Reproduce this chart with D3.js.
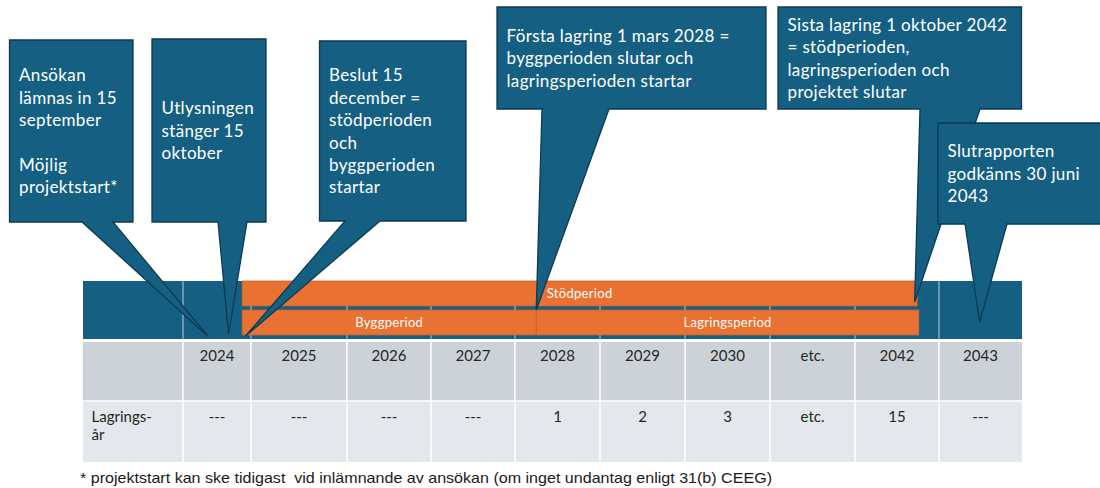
<!DOCTYPE html>
<html>
<head>
<meta charset="utf-8">
<script src="https://cdn.jsdelivr.net/npm/d3@7"></script>
<style>
  body { margin: 0; background: #fff; }
  svg { display: block; }
</style>
</head>
<body>
<svg id="chart" width="1100" height="488"></svg>
<script>
// --- data ---
const columns = ["2024", "2025", "2026", "2027", "2028", "2029", "2030", "etc.", "2042", "2043"];
// year at the left edge of each column ("etc." covers 2031-2042)
const columnYears = [2024, 2025, 2026, 2027, 2028, 2029, 2030, 2031, 2042, 2043, 2044];
const storageYears = ["---", "---", "---", "---", "1", "2", "3", "etc.", "15", "---"];
const rowLabel = ["Lagrings-", "år"];

const periods = [
  { name: "Stödperiod", start: 2024.87, end: 2042.74, row: 0 },
  { name: "Byggperiod", start: 2024.87, end: 2028.25, row: 1 },
  { name: "Lagringsperiod", start: 2028.25, end: 2042.76, row: 1 }
];

const calloutTexts = [
  ["Ansökan", "lämnas in 15", "september", "", "Möjlig", "projektstart*"],
  ["Utlysningen", "stänger 15", "oktober"],
  ["Beslut 15", "december =", "stödperioden", "och", "byggperioden", "startar"],
  ["Första lagring 1 mars 2028 =", "byggperioden slutar och", "lagringsperioden startar"],
  ["Sista lagring 1 oktober 2042", "= stödperioden,", "lagringsperioden och", "projektet slutar"],
  ["Slutrapporten", "godkänns 30 juni", "2043"]
];
// where each pointer lands on the time axis
const calloutTargets = [2024.37, 2024.67, 2024.92, 2028.25, 2042.71, 2043.49];

const footnote = "* projektstart kan ske tidigast  vid inlämnande av ansökan (om inget undantag enligt 31(b) CEEG)";

// --- layout ---
const blue = "#156082", orange = "#E97132", edge = "#0e3a50";
const tableLeft = 83, labelWidth = 100;
const colWidths = [68, 96, 84, 84, 85, 85, 85, 85, 84, 83];
const headerTop = 281, headerBottom = 339, row1Top = 342, row1Bottom = 401, row2Bottom = 462;
const barRows = [[281, 306], [310, 335]];

// box [x0, y0, x1, y1], pointer base [b0, b1], tip y
const calloutBoxes = [
  { box: [9.5, 40, 133, 222], base: [82, 113], tipY: 336.5 },
  { box: [152, 39, 266, 222], base: [218, 247], tipY: 334 },
  { box: [319.5, 41, 466, 221], base: [345, 380], tipY: 336 },
  { box: [497, 7, 766, 109], base: [542, 609], tipY: 310 },
  { box: [778, 7, 1021.5, 109], base: [920, 980], tipY: 302 },
  { box: [938, 123, 1103, 224], base: [965, 1007], tipY: 322 }
];

const svg = d3.select("#chart");

const edges = [tableLeft + labelWidth];
colWidths.forEach(w => edges.push(edges[edges.length - 1] + w));
const x = d3.scaleLinear().domain(columnYears).range(edges);

// --- table ---
const font = "Lato, 'Noto Sans', sans-serif";
const tableRight = edges[edges.length - 1];

// header band + two body rows
svg.append("rect")
  .attr("x", tableLeft).attr("y", headerTop)
  .attr("width", tableRight - tableLeft).attr("height", headerBottom - headerTop)
  .attr("fill", blue);
svg.append("rect")
  .attr("x", tableLeft).attr("y", row1Top)
  .attr("width", tableRight - tableLeft).attr("height", row1Bottom - row1Top)
  .attr("fill", "#CDD2D9");
svg.append("rect")
  .attr("x", tableLeft).attr("y", row1Bottom)
  .attr("width", tableRight - tableLeft).attr("height", row2Bottom - row1Bottom)
  .attr("fill", "#E4E7EB");

// column separators
const seps = edges.slice(0, -1);
svg.append("g").selectAll("line")
  .data(seps).join("line")
  .attr("x1", d => d).attr("x2", d => d)
  .attr("y1", headerTop).attr("y2", headerBottom)
  .attr("stroke", "#b8cdd9").attr("stroke-width", 1);
svg.append("g").selectAll("line")
  .data(seps).join("line")
  .attr("x1", d => d).attr("x2", d => d)
  .attr("y1", row1Top).attr("y2", row2Bottom)
  .attr("stroke", "#fff").attr("stroke-width", 1.5);
svg.append("line")
  .attr("x1", tableLeft).attr("x2", tableRight)
  .attr("y1", row1Bottom).attr("y2", row1Bottom)
  .attr("stroke", "#fff").attr("stroke-width", 1.5);

// period bars
const bars = svg.append("g");
bars.selectAll("rect")
  .data(periods).join("rect")
  .attr("x", d => x(d.start))
  .attr("y", d => barRows[d.row][0])
  .attr("width", d => x(d.end) - x(d.start))
  .attr("height", d => barRows[d.row][1] - barRows[d.row][0])
  .attr("fill", orange)
  .attr("stroke", "#c8622c").attr("stroke-width", 0.8);
bars.selectAll("text")
  .data(periods).join("text")
  .attr("x", d => (x(d.start) + x(d.end)) / 2)
  .attr("y", d => barRows[d.row][1] - 8)
  .attr("text-anchor", "middle")
  .attr("font-family", font).attr("font-size", 13)
  .attr("letter-spacing", 0.3)
  .attr("fill", "#fff")
  .text(d => d.name);

// year row and storage-year row
const cols = svg.append("g");
cols.selectAll("text.year")
  .data(columns).join("text")
  .attr("class", "year")
  .attr("x", (d, i) => (edges[i] + edges[i + 1]) / 2)
  .attr("y", 360.5)
  .attr("text-anchor", "middle")
  .attr("font-family", font).attr("font-size", 15)
  .attr("fill", "#262626")
  .text(d => d);
cols.selectAll("text.store")
  .data(storageYears).join("text")
  .attr("class", "store")
  .attr("x", (d, i) => (edges[i] + edges[i + 1]) / 2)
  .attr("y", 421.5)
  .attr("text-anchor", "middle")
  .attr("font-family", font).attr("font-size", 15)
  .attr("fill", "#262626")
  .text(d => d);
svg.append("g").selectAll("text")
  .data(rowLabel).join("text")
  .attr("x", 91.5)
  .attr("y", (d, i) => 421.5 + i * 18.5)
  .attr("font-family", font).attr("font-size", 15)
  .attr("fill", "#262626")
  .text(d => d);

// --- callouts ---
const lineH = 22.4;
const callouts = calloutTexts.map((lines, i) => ({
  lines, target: calloutTargets[i], ...calloutBoxes[i]
}));

const cg = svg.append("g").selectAll("g")
  .data(callouts).join("g");

cg.append("path")
  .attr("d", d => {
    const [x0, y0, x1, y1] = d.box;
    const tx = x(d.target);
    return `M${x0},${y0}H${x1}V${y1}H${d.base[1]}L${tx},${d.tipY}L${d.base[0]},${y1}H${x0}Z`;
  })
  .attr("fill", blue)
  .attr("stroke", edge).attr("stroke-width", 1.3)
  .attr("stroke-linejoin", "miter");

cg.each(function (d) {
  const [x0, y0, x1, y1] = d.box;
  const top = y0 + (y1 - y0 - d.lines.length * lineH) / 2;
  d3.select(this).selectAll("text")
    .data(d.lines).join("text")
    .attr("x", x0 + 9.5)
    .attr("y", (t, j) => top + j * lineH + 17.5)
    .attr("font-family", font).attr("font-size", 17)
    .attr("letter-spacing", 0.35)
    .attr("fill", "#fff")
    .text(t => t);
});

// --- footnote ---
svg.append("text")
  .attr("x", 80).attr("y", 483)
  .attr("font-family", "'Liberation Sans Narrow', 'Liberation Sans', Arial, sans-serif")
  .attr("font-size", 14.5)
  .attr("fill", "#1a1a1a")
  .attr("textLength", 692).attr("lengthAdjust", "spacingAndGlyphs")
  .style("white-space", "pre")
  .text(footnote);
</script>
</body>
</html>
